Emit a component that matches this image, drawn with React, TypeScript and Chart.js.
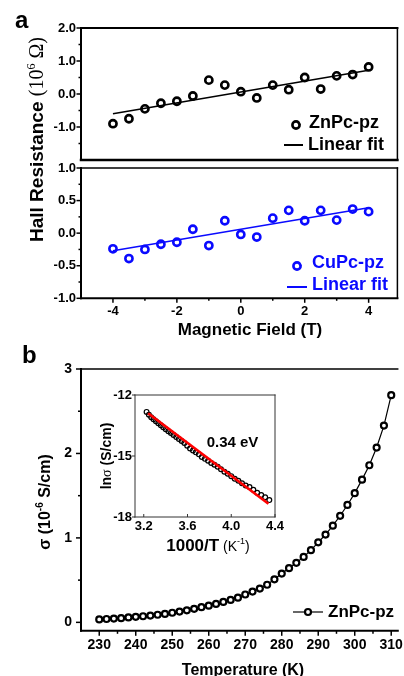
import React, { useEffect, useRef } from "react";
import { Chart, registerables } from "chart.js";

Chart.register(...registerables);

const SANS = '"Liberation Sans", Arial, Helvetica, sans-serif';
const SERIF = '"Liberation Serif", "Times New Roman", Times, serif';
const BLUE = "#0a0aff";
const W = 404;
const H = 676;

// ---------- panel a : Hall resistance ----------
const fieldT = [-4, -3.5, -3, -2.5, -2, -1.5, -1, -0.5, 0, 0.5, 1, 1.5, 2, 2.5, 3, 3.5, 4];
const znHall = [-0.9, -0.75, -0.45, -0.28, -0.22, -0.06, 0.42, 0.27, 0.07, -0.12, 0.27, 0.13, 0.5, 0.15, 0.55, 0.59, 0.82];
const cuHall = [-0.24, -0.39, -0.25, -0.17, -0.14, 0.06, -0.19, 0.19, -0.02, -0.06, 0.23, 0.35, 0.19, 0.35, 0.2, 0.37, 0.33];
const fitField = [-4, 4];
const znFit = [-0.6, 0.72];
const cuFit = [-0.27, 0.39];
const hallTopTicks = [2, 1, 0, -1];
const hallTopMinor = [1.5, 0.5, -0.5, -1.5];
const hallBotTicks = [1, 0.5, 0, -0.5, -1];
const hallBotMinor = [0.75, 0.25, -0.25, -0.75];
const fieldTicks = [-4, -2, 0, 2, 4];
const fieldMinor = [-3, -1, 1, 3];

// ---------- panel b : conductivity ----------
const temperature = [230, 232, 234, 236, 238, 240, 242, 244, 246, 248, 250, 252, 254, 256, 258, 260, 262, 264, 266, 268, 270, 272, 274, 276, 278, 280, 282, 284, 286, 288, 290, 292, 294, 296, 298, 300, 302, 304, 306, 308, 310];
const sigma = [0.035, 0.04, 0.045, 0.05, 0.058, 0.066, 0.072, 0.08, 0.09, 0.1, 0.114, 0.128, 0.142, 0.16, 0.18, 0.198, 0.218, 0.242, 0.266, 0.292, 0.33, 0.365, 0.4, 0.445, 0.51, 0.578, 0.642, 0.705, 0.775, 0.855, 0.948, 1.04, 1.145, 1.262, 1.39, 1.53, 1.69, 1.86, 2.07, 2.33, 2.69];
const tempTicks = [230, 240, 250, 260, 270, 280, 290, 300, 310];
const tempMinor = [235, 245, 255, 265, 275, 285, 295, 305];
const sigmaTicks = [0, 1, 2, 3];
const sigmaMinor = [0.5, 1.5, 2.5];

// ---------- inset : Arrhenius plot ----------
const invT = [4.348, 4.31, 4.274, 4.237, 4.202, 4.167, 4.132, 4.098, 4.065, 4.032, 4.0, 3.968, 3.937, 3.906, 3.876, 3.846, 3.817, 3.788, 3.759, 3.731, 3.704, 3.676, 3.65, 3.623, 3.597, 3.571, 3.546, 3.521, 3.497, 3.472, 3.448, 3.425, 3.401, 3.378, 3.356, 3.333, 3.311, 3.289, 3.268, 3.247, 3.226];
const lnSigma = [-17.17, -17.03, -16.92, -16.81, -16.66, -16.53, -16.45, -16.34, -16.22, -16.12, -15.99, -15.87, -15.77, -15.65, -15.53, -15.43, -15.34, -15.23, -15.14, -15.05, -14.92, -14.82, -14.73, -14.63, -14.49, -14.36, -14.26, -14.17, -14.07, -13.97, -13.87, -13.78, -13.68, -13.58, -13.49, -13.39, -13.29, -13.19, -13.09, -12.97, -12.83];
const arrFitX = [3.24, 4.34];
const arrFitY = [-12.9, -17.35];
const invTTicks = [3.2, 3.6, 4.0, 4.4];
const lnTicks = [-12, -15, -18];

// ---------- helpers ----------
const bold = (size: number) => ({ family: SANS, size, weight: "bold" as const });
const pts = (xs: number[], ys: number[]) => xs.map((x, i) => ({ x, y: ys[i] }));

function fixedScale(
  min: number,
  max: number,
  ticks: number[],
  fmt: (v: number) => string,
  fontSize: number,
  padding: number,
  fit: { width?: number; height?: number }
) {
  return {
    type: "linear" as const,
    min,
    max,
    grid: { display: false, drawTicks: false },
    border: { display: false },
    ticks: {
      font: bold(fontSize),
      color: "#000",
      padding,
      autoSkip: false,
      maxRotation: 0,
      minRotation: 0,
      callback: (v: any) => fmt(Number(v)),
    },
    afterBuildTicks: (s: any) => {
      s.ticks = ticks.map((v) => ({ value: v }));
    },
    afterFit: (s: any) => {
      if (fit.width !== undefined) s.width = fit.width;
      if (fit.height !== undefined) s.height = fit.height;
      s.paddingLeft = 0;
      s.paddingRight = 0;
      s.paddingTop = 0;
      s.paddingBottom = 0;
    },
  };
}

type TickSet = { axis: "x" | "y"; values: number[]; len: number; inward?: boolean; width?: number; color?: string };
type Edges = { top?: number; right?: number; bottom?: number; left?: number };
type Run = { t: string; f: string; dy?: number };

function seg(ctx: CanvasRenderingContext2D, x1: number, y1: number, x2: number, y2: number, w: number, col: string, cap: CanvasLineCap = "butt") {
  ctx.beginPath();
  ctx.lineWidth = w;
  ctx.strokeStyle = col;
  ctx.lineCap = cap;
  ctx.moveTo(x1, y1);
  ctx.lineTo(x2, y2);
  ctx.stroke();
}

function circle(ctx: CanvasRenderingContext2D, x: number, y: number, r: number, w: number, col: string, fill?: string) {
  ctx.beginPath();
  ctx.arc(x, y, r, 0, Math.PI * 2);
  if (fill) {
    ctx.fillStyle = fill;
    ctx.fill();
  }
  ctx.lineWidth = w;
  ctx.strokeStyle = col;
  ctx.stroke();
}

function label(ctx: CanvasRenderingContext2D, s: string, x: number, y: number, font: string, col = "#000", align: CanvasTextAlign = "left", baseline: CanvasTextBaseline = "middle") {
  ctx.font = font;
  ctx.fillStyle = col;
  ctx.textAlign = align;
  ctx.textBaseline = baseline;
  ctx.fillText(s, x, y);
}

function runs(ctx: CanvasRenderingContext2D, list: Run[], x: number, y: number, rot: number, align: "center" | "left", col = "#000") {
  ctx.save();
  ctx.translate(x, y);
  if (rot) ctx.rotate(rot);
  ctx.textBaseline = "alphabetic";
  ctx.textAlign = "left";
  ctx.fillStyle = col;
  let total = 0;
  for (const r of list) {
    ctx.font = r.f;
    total += ctx.measureText(r.t).width;
  }
  let cx = align === "center" ? -total / 2 : 0;
  for (const r of list) {
    ctx.font = r.f;
    ctx.fillText(r.t, cx, r.dy || 0);
    cx += ctx.measureText(r.t).width;
  }
  ctx.restore();
}

function decor(id: string, edges: Edges, color: string, tickSets: TickSet[], extra?: (ctx: CanvasRenderingContext2D) => void, bg?: string) {
  return {
    id,
    beforeDraw(chart: any) {
      if (!bg) return;
      const { ctx, chartArea: a } = chart;
      ctx.save();
      ctx.fillStyle = bg;
      ctx.fillRect(a.left, a.top, a.right - a.left, a.bottom - a.top);
      ctx.restore();
    },
    afterDraw(chart: any) {
      const { ctx, chartArea: a } = chart;
      ctx.save();
      for (const t of tickSets) {
        const s = chart.scales[t.axis];
        const w = t.width ?? 1.5;
        const col = t.color ?? color;
        for (const v of t.values) {
          const p = s.getPixelForValue(v);
          if (t.axis === "x") {
            seg(ctx, p, a.bottom, p, t.inward ? a.bottom - t.len : a.bottom + t.len, w, col);
          } else {
            seg(ctx, a.left, p, t.inward ? a.left + t.len : a.left - t.len, p, w, col);
          }
        }
      }
      if (edges.top) seg(ctx, a.left, a.top, a.right, a.top, edges.top, color, "square");
      if (edges.bottom) seg(ctx, a.left, a.bottom, a.right, a.bottom, edges.bottom, color, "square");
      if (edges.left) seg(ctx, a.left, a.top, a.left, a.bottom, edges.left, color, "square");
      if (edges.right) seg(ctx, a.right, a.top, a.right, a.bottom, edges.right, color, "square");
      if (extra) extra(ctx);
      ctx.restore();
    },
  };
}

const baseOptions = (padding: { left: number; top: number; right: number; bottom: number }) => ({
  animation: false as const,
  responsive: false,
  maintainAspectRatio: false,
  events: [] as any[],
  devicePixelRatio: 1,
  layout: { padding },
  plugins: { legend: { display: false }, tooltip: { enabled: false }, title: { display: false } },
});

export default function App() {
  const r1 = useRef<HTMLCanvasElement>(null);
  const r2 = useRef<HTMLCanvasElement>(null);
  const r3 = useRef<HTMLCanvasElement>(null);
  const r4 = useRef<HTMLCanvasElement>(null);

  useEffect(() => {
    const charts: Chart[] = [];
    const fmt1 = (v: number) => v.toFixed(1);
    const fmt0 = (v: number) => String(v);

    // ---- panel a, top (ZnPc-pz) ----
    charts.push(
      new Chart(r1.current!, {
        type: "scatter",
        data: {
          datasets: [
            { data: pts(fieldT, znHall), pointRadius: 3.6, pointBorderWidth: 2.6, pointBorderColor: "#000", pointBackgroundColor: "rgba(0,0,0,0)", showLine: false },
            { data: pts(fitField, znFit), showLine: true, borderColor: "#000", borderWidth: 1.6, pointRadius: 0 },
          ],
        },
        options: {
          ...baseOptions({ left: 0, top: 28, right: 2, bottom: 516 }),
          scales: {
            x: { type: "linear", display: false, min: -5, max: 4.9 },
            y: fixedScale(-2, 2, hallTopTicks, fmt1, 13, 5, { width: 81 }),
          },
        } as any,
        plugins: [
          decor(
            "a1",
            { top: 2, left: 2, bottom: 2.5, right: 1.5 },
            "#000",
            [
              { axis: "y", values: hallTopTicks, len: 4.5 },
              { axis: "y", values: hallTopMinor, len: 2.5 },
            ],
            (ctx) => {
              label(ctx, "a", 15, 28, `bold 24px ${SANS}`, "#000", "left", "alphabetic");
              circle(ctx, 296, 125, 3.6, 2.6, "#000");
              label(ctx, "ZnPc-pz", 309, 123, `bold 18px ${SANS}`);
              seg(ctx, 284, 145, 303, 145, 2, "#000");
              label(ctx, "Linear fit", 308, 145, `bold 18px ${SANS}`);
              runs(
                ctx,
                [
                  { t: "Hall Resistance ", f: `bold 19px ${SANS}` },
                  { t: "(10", f: `20px ${SERIF}` },
                  { t: "6", f: `12px ${SERIF}`, dy: -8 },
                  { t: " Ω)", f: `20px ${SERIF}` },
                ],
                43,
                242,
                -Math.PI / 2,
                "left"
              );
            }
          ),
        ],
      })
    );

    // ---- panel a, bottom (CuPc-pz) ----
    charts.push(
      new Chart(r2.current!, {
        type: "scatter",
        data: {
          datasets: [
            { data: pts(fieldT, cuHall), pointRadius: 3.6, pointBorderWidth: 2.6, pointBorderColor: BLUE, pointBackgroundColor: "rgba(0,0,0,0)", showLine: false },
            { data: pts(fitField, cuFit), showLine: true, borderColor: BLUE, borderWidth: 1.4, pointRadius: 0 },
          ],
        },
        options: {
          ...baseOptions({ left: 0, top: 168, right: 2, bottom: 676 - 298.3 - 30 }),
          scales: {
            x: fixedScale(-5, 4.9, fieldTicks, fmt0, 13, 5, { height: 30 }),
            y: fixedScale(-1, 1, hallBotTicks, fmt1, 13, 5, { width: 81 }),
          },
        } as any,
        plugins: [
          decor(
            "a2",
            { top: 1.5, left: 2, bottom: 2, right: 1.5 },
            "#000",
            [
              { axis: "y", values: hallBotTicks, len: 4.5 },
              { axis: "y", values: hallBotMinor, len: 2.5 },
              { axis: "x", values: fieldTicks, len: 4.5 },
              { axis: "x", values: fieldMinor, len: 2.5 },
            ],
            (ctx) => {
              circle(ctx, 297, 266, 3.6, 2.6, BLUE);
              label(ctx, "CuPc-pz", 312, 263, `bold 18px ${SANS}`, BLUE);
              seg(ctx, 287, 287, 307, 287, 2, BLUE);
              label(ctx, "Linear fit", 312, 285, `bold 18px ${SANS}`, BLUE);
              label(ctx, "Magnetic Field (T)", 250, 335, `bold 17px ${SANS}`, "#000", "center", "alphabetic");
            }
          ),
        ],
      })
    );

    // ---- panel b, main ----
    charts.push(
      new Chart(r3.current!, {
        type: "scatter",
        data: {
          datasets: [
            {
              data: pts(temperature, sigma),
              showLine: true,
              borderColor: "#000",
              borderWidth: 1.2,
              pointRadius: 3,
              pointBorderWidth: 2.2,
              pointBorderColor: "#000",
              pointBackgroundColor: "#fff",
            },
          ],
        },
        options: {
          ...baseOptions({ left: 0, top: 369, right: 0, bottom: 676 - 630.8 - 40 }),
          scales: {
            x: fixedScale(225, 311.8, tempTicks, fmt0, 14, 6, { height: 40 }),
            y: fixedScale(-0.1, 3, sigmaTicks, fmt0, 14, 9, { width: 81 }),
          },
        } as any,
        plugins: [
          decor(
            "b",
            { top: 1.3, left: 2, bottom: 2 },
            "#000",
            [
              { axis: "y", values: sigmaTicks, len: 5 },
              { axis: "y", values: sigmaMinor, len: 3 },
              { axis: "x", values: tempTicks, len: 5 },
              { axis: "x", values: tempMinor, len: 3 },
            ],
            (ctx) => {
              label(ctx, "b", 22, 363, `bold 24px ${SANS}`, "#000", "left", "alphabetic");
              seg(ctx, 293, 612, 323, 612, 1.2, "#000");
              circle(ctx, 308, 612, 3, 2.2, "#000", "#fff");
              label(ctx, "ZnPc-pz", 328, 612, `bold 17px ${SANS}`);
              label(ctx, "Temperature (K)", 243, 675, `bold 16px ${SANS}`, "#000", "center", "alphabetic");
              runs(
                ctx,
                [
                  { t: "σ (10", f: `bold 16px ${SANS}` },
                  { t: "-6", f: `bold 10px ${SANS}`, dy: -7 },
                  { t: " S/cm)", f: `bold 16px ${SANS}` },
                ],
                50,
                502,
                -Math.PI / 2,
                "center"
              );
            }
          ),
        ],
      })
    );

    // ---- panel b, inset ----
    charts.push(
      new Chart(r4.current!, {
        type: "scatter",
        data: {
          datasets: [
            { data: pts(arrFitX, arrFitY), showLine: true, borderColor: "#ff0000", borderWidth: 2.6, pointRadius: 0 },
            { data: pts(invT, lnSigma), showLine: false, pointRadius: 2.4, pointBorderWidth: 1.2, pointBorderColor: "#000", pointBackgroundColor: "rgba(0,0,0,0)" },
          ],
        },
        options: {
          ...baseOptions({ left: 0, top: 395, right: 404 - 275, bottom: 676 - 517 - 20 }),
          scales: {
            x: fixedScale(3.12, 4.4, invTTicks, fmt1, 13, 1.2, { height: 20 }),
            y: fixedScale(-18, -12, lnTicks, fmt0, 13, 3, { width: 135 }),
          },
        } as any,
        plugins: [
          decor(
            "inset",
            { top: 1, left: 1, bottom: 1, right: 1 },
            "#333",
            [
              { axis: "y", values: lnTicks, len: 3, width: 1 },
              { axis: "x", values: invTTicks, len: 3, inward: true, width: 1 },
            ],
            (ctx) => {
              label(ctx, "0.34 eV", 232.5, 443, `bold 15px ${SANS}`, "#000", "center", "middle");
              runs(
                ctx,
                [
                  { t: "1000/T", f: `bold 17px ${SANS}` },
                  { t: " (K", f: `14px ${SANS}` },
                  { t: "-1", f: `9px ${SANS}`, dy: -7 },
                  { t: ")", f: `14px ${SANS}` },
                ],
                208,
                551,
                0,
                "center"
              );
              runs(
                ctx,
                [
                  { t: "ln", f: `bold 14px ${SANS}` },
                  { t: "σ", f: `14px ${SERIF}` },
                  { t: " (S/cm)", f: `bold 14px ${SANS}` },
                ],
                111,
                456,
                -Math.PI / 2,
                "center"
              );
            },
            "#fff"
          ),
        ],
      })
    );

    return () => charts.forEach((c) => c.destroy());
  }, []);

  const cs: React.CSSProperties = { position: "absolute", left: 0, top: 0, width: W, height: H };
  return (
    <div style={{ position: "absolute", left: 0, top: 0, width: W, height: H, background: "#fff", overflow: "hidden" }}>
      <canvas ref={r1} width={W} height={H} style={cs} />
      <canvas ref={r2} width={W} height={H} style={cs} />
      <canvas ref={r3} width={W} height={H} style={cs} />
      <canvas ref={r4} width={W} height={H} style={cs} />
    </div>
  );
}
